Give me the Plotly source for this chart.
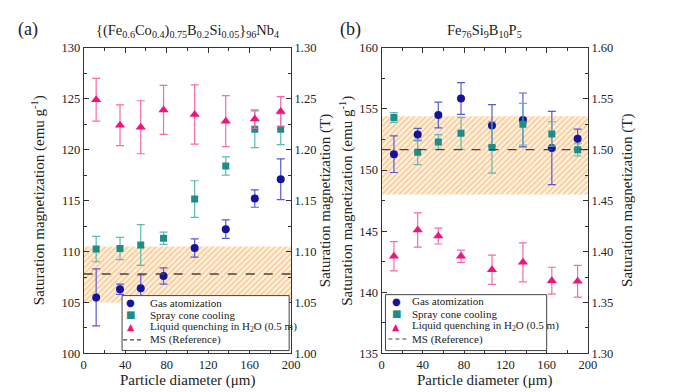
import plotly.graph_objects as go

# ---------------- data ----------------
diam = [12, 35, 55, 77, 107, 137, 165, 190]

# panel (a) {(Fe0.6Co0.4)0.75B0.2Si0.05}96Nb4  (emu/g)
a_gas = [105.5, 106.3, 106.4, 107.6, 110.35, 112.2, 115.2, 117.1]
a_gas_err = [2.8, 0.5, 1.3, 0.8, 0.9, 0.9, 0.85, 2.0]
a_spray = [110.25, 110.3, 110.65, 111.3, 115.15, 118.4, 122.0, 122.0]
a_spray_err = [1.25, 1.1, 2.0, 0.6, 1.8, 0.9, 1.8, 1.5]
a_liq = [124.9, 122.4, 122.2, 123.9, 123.45, 122.8, 123.0, 123.75]
a_liq_err = [2.1, 2.0, 2.6, 2.4, 2.9, 2.5, 0.9, 1.45]
a_ms_T = 1.078
a_band = [105.0, 110.5]

# panel (b) Fe76Si9B10P5  (emu/g)
b_gas = [151.3, 152.9, 154.5, 155.85, 153.65, 154.1, 151.8, 152.55]
b_gas_err = [1.5, 0.5, 1.05, 1.3, 1.7, 2.2, 3.0, 0.8]
b_spray = [154.3, 151.45, 152.3, 153.0, 151.85, 153.75, 152.95, 151.65]
b_spray_err = [0.4, 1.0, 0.6, 1.3, 2.1, 1.7, 1.0, 0.5]
b_liq = [142.95, 145.1, 144.6, 142.95, 141.85, 142.45, 140.95, 140.9]
b_liq_err = [1.2, 1.4, 0.65, 0.5, 1.2, 1.6, 1.1, 1.3]
b_ms_T = 1.50
b_band = [148.0, 154.4]

names = ["Gas atomization", "Spray cone cooling",
         "Liquid quenching in H<sub>2</sub>O (0.5 m)", "MS (Reference)"]

# ---------------- style ----------------
FONT = "Liberation Serif"
C_GAS, C_GAS_E = "#14149a", "#5a5ad0"
C_SPR, C_SPR_E = "#1f8c88", "#5fb8b4"
C_LIQ, C_LIQ_E = "#f0147c", "#f76aaa"
C_BAND = "#f5a040"
C_MS = "#444444"

W, H = 700, 392
dom_a = [0.1057, 0.4071]
dom_b = [0.5386, 0.8386]
dom_y = [0.1046, 0.9133]

fig = go.Figure()


def add_panel(xa, ya, yb, band, gas, gas_e, spr, spr_e, liq, liq_e, ms_T):
    fig.add_trace(go.Scatter(
        x=[0, 200, 200, 0, 0], y=[band[0], band[0], band[1], band[1], band[0]],
        xaxis=xa, yaxis=ya, mode="lines", line=dict(width=0), fill="toself",
        fillcolor="rgba(255,255,255,0)",
        fillpattern=dict(shape="/", fgcolor=C_BAND, bgcolor="rgba(255,230,200,0.5)",
                         size=4, solidity=0.4),
        showlegend=False, hoverinfo="skip"))
    fig.add_trace(go.Scatter(
        x=diam, y=gas, xaxis=xa, yaxis=ya, mode="markers", name=names[0], showlegend=False,
        marker=dict(symbol="circle", size=8, color=C_GAS),
        error_y=dict(type="data", array=gas_e, color=C_GAS_E, thickness=1.2, width=4)))
    fig.add_trace(go.Scatter(
        x=diam, y=spr, xaxis=xa, yaxis=ya, mode="markers", name=names[1], showlegend=False,
        marker=dict(symbol="square", size=7, color=C_SPR),
        error_y=dict(type="data", array=spr_e, color=C_SPR_E, thickness=1.2, width=4)))
    fig.add_trace(go.Scatter(
        x=diam, y=liq, xaxis=xa, yaxis=ya, mode="markers", name=names[2], showlegend=False,
        marker=dict(symbol="triangle-up", size=9, color=C_LIQ),
        error_y=dict(type="data", array=liq_e, color=C_LIQ_E, thickness=1.2, width=4)))
    fig.add_trace(go.Scatter(
        x=[0, 200], y=[ms_T, ms_T], xaxis=xa, yaxis=yb, mode="lines", name=names[3],
        showlegend=False, line=dict(color=C_MS, width=1.3, dash="dash")))


add_panel("x", "y", "y2", a_band, a_gas, a_gas_err, a_spray, a_spray_err,
          a_liq, a_liq_err, a_ms_T)
add_panel("x2", "y3", "y4", b_band, b_gas, b_gas_err, b_spray, b_spray_err,
          b_liq, b_liq_err, b_ms_T)

tickfont = dict(family=FONT, size=12.5, color="#222")


def xax(domain, anchor):
    return dict(domain=domain, anchor=anchor, range=[0, 200], tickvals=[0, 40, 80, 120, 160, 200],
                ticks="inside", ticklen=5, tickcolor="#333", showline=True, linecolor="#333",
                linewidth=1, mirror="ticks", showgrid=False, zeroline=False, tickfont=tickfont,
                minor=dict(dtick=20, ticks="inside", ticklen=3, tickcolor="#333"))


def yax(domain, anchor, rng, dtick, mdtick, fmt=None):
    d = dict(domain=domain, anchor=anchor, range=rng, dtick=dtick, ticks="inside", ticklen=5,
             tickcolor="#333", showline=True, linecolor="#333", linewidth=1,
             showgrid=False, zeroline=False, tickfont=tickfont,
             minor=dict(dtick=mdtick, ticks="inside", ticklen=3, tickcolor="#333"))
    if fmt:
        d["tickformat"] = fmt
    return d


lay = dict(
    width=W, height=H, margin=dict(l=0, r=0, t=0, b=0),
    paper_bgcolor="white", plot_bgcolor="white", showlegend=False,
    font=dict(family=FONT, color="#222"),
    xaxis=xax(dom_a, "y"),
    xaxis2=xax(dom_b, "y3"),
    yaxis=yax(dom_y, "x", [100, 130], 5, 2.5),
    yaxis3=yax(dom_y, "x2", [135, 160], 5, 2.5),
)
y2 = yax(dom_y, "x", [1.0, 1.3], 0.05, 0.025, ".2f")
y2.update(overlaying="y", side="right")
y4 = yax(dom_y, "x2", [1.3, 1.6], 0.05, 0.025, ".2f")
y4.update(overlaying="y3", side="right")
lay["yaxis2"] = y2
lay["yaxis4"] = y4
fig.update_layout(**lay)


def px(x):
    return x / W


def py(y):
    return 1 - y / H


# ---------- compact legends (box + real text) ----------
def legend_box(x0, x1, y0, y1, sym_x, text_x, rows):
    fig.add_shape(type="rect", xref="paper", yref="paper", x0=px(x0), x1=px(x1),
                  y0=py(y1), y1=py(y0), line=dict(color="#444", width=1),
                  fillcolor="white", layer="above")
    glyphs = [("●", C_GAS, 10), ("■", C_SPR, 10), ("▲", C_LIQ, 9.5)]
    for i, (g, c, s) in enumerate(glyphs):
        fig.add_annotation(x=px(sym_x), y=py(rows[i]), xref="paper", yref="paper", text=g,
                           showarrow=False, xanchor="center", yanchor="middle",
                           font=dict(family="DejaVu Sans", size=s, color=c))
    fig.add_shape(type="line", xref="paper", yref="paper", x0=px(sym_x - 8), x1=px(sym_x + 12),
                  y0=py(rows[3]), y1=py(rows[3]),
                  line=dict(color=C_MS, width=1.2, dash="4px,3px"), layer="above")
    for i, n in enumerate(names):
        fig.add_annotation(x=px(text_x), y=py(rows[i]), xref="paper", yref="paper", text=n,
                           showarrow=False, xanchor="left", yanchor="middle",
                           font=dict(family=FONT, size=11, color="#222"))


legend_box(113, 283, 291, 348, 122, 139, [298.5, 311, 323.5, 337])
legend_box(381, 545, 290, 348, 392, 406, [297, 310, 323, 336])

tf = dict(family=FONT, size=15, color="#222")
for x, t in [(5, "(a)"), (333, "(b)")]:
    fig.add_annotation(x=px(x), y=py(15), xref="paper", yref="paper",
                       text=t, showarrow=False, xanchor="left", yanchor="middle",
                       font=dict(family=FONT, size=18, color="#222"))

fig.add_annotation(x=(dom_a[0] + dom_a[1]) / 2, y=py(17), xref="paper", yref="paper",
                   text="{(Fe<sub>0.6</sub>Co<sub>0.4</sub>)<sub>0.75</sub>B<sub>0.2</sub>"
                        "Si<sub>0.05</sub>}<sub>96</sub>Nb<sub>4</sub>",
                   showarrow=False, xanchor="center", yanchor="middle",
                   font=dict(family=FONT, size=14.5, color="#222"))
fig.add_annotation(x=(dom_b[0] + dom_b[1]) / 2, y=py(17), xref="paper", yref="paper",
                   text="Fe<sub>76</sub>Si<sub>9</sub>B<sub>10</sub>P<sub>5</sub>",
                   showarrow=False, xanchor="center", yanchor="middle",
                   font=dict(family=FONT, size=14.5, color="#222"))

for xpix, txt in [(28, "Saturation magnetization (emu g<sup>-1</sup>)"),
                  (320, "Saturation magnetization (T)"),
                  (341, "Saturation magnetization (emu g<sup>-1</sup>)"),
                  (627, "Saturation magnetization (T)")]:
    fig.add_annotation(x=px(xpix), y=py(192.5), xref="paper", yref="paper", text=txt,
                       textangle=-90, showarrow=False, xanchor="center", yanchor="middle",
                       font=tf)

for dom in (dom_a, dom_b):
    fig.add_annotation(x=(dom[0] + dom[1]) / 2, y=py(379), xref="paper", yref="paper",
                       text="Particle diameter (μm)", showarrow=False, xanchor="center",
                       yanchor="middle", font=tf)

fig.write_html("out.html")
